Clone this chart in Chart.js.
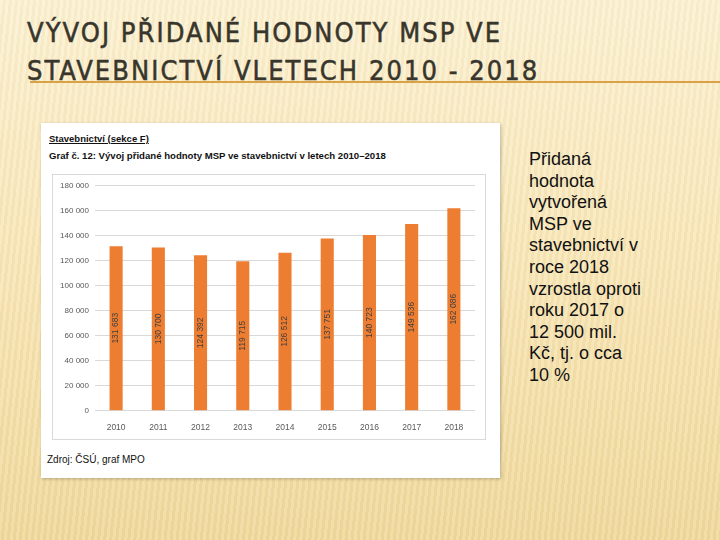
<!DOCTYPE html>
<html>
<head>
<meta charset="utf-8">
<script src="https://cdn.jsdelivr.net/npm/chart.js@4"></script>
<style>
  html, body { margin: 0; padding: 0; }
  body {
    width: 720px; height: 540px; overflow: hidden; position: relative;
    background:
      repeating-linear-gradient(96deg, rgba(255,255,255,0.12) 0 3px, rgba(120,80,0,0.035) 3px 6px),
      linear-gradient(180deg, #fcf1d2 0%, #f8e6b6 50%, #f0d99c 100%);
    font-family: "Liberation Sans", Arial, sans-serif;
  }
  .title {
    position: absolute; left: 27px; top: 14px;
    font-family: "DejaVu Sans", sans-serif;
    font-stretch: condensed;
    font-size: 27px; line-height: 38px; color: #38362c;
    letter-spacing: 2.05px;
    -webkit-text-stroke: 0.5px #38362c;
  }
  .rule { position: absolute; left: 30px; top: 81px; width: 690px; height: 2px; background: #dba147; }
  .card {
    position: absolute; left: 41px; top: 123px; width: 459px; height: 355px;
    background: #fff; box-shadow: 1px 1px 3px rgba(0,0,0,0.25);
  }
  .sec { position: absolute; left: 8px; top: 10px; font-size: 9.5px; font-weight: bold; text-decoration: underline; color: #111; }
  .graf { position: absolute; left: 8px; top: 27px; font-size: 9.6px; font-weight: bold; color: #111; }
  .frame {
    position: absolute; left: 11px; top: 51px; width: 432px; height: 264px;
    border: 1px solid #d9d9d9;
  }
  .src { position: absolute; left: 6px; top: 331px; font-size: 10px; color: #111; }
  .note {
    position: absolute; left: 529px; top: 149px; font-size: 18px; line-height: 21.6px; color: #111;
  }
</style>
</head>
<body>
<div class="title">VÝVOJ PŘIDANÉ HODNOTY MSP VE<br>STAVEBNICTVÍ VLETECH 2010 - 2018</div>
<div class="rule"></div>
<div class="card">
  <div class="sec">Stavebnictví (sekce F)</div>
  <div class="graf">Graf č. 12: Vývoj přidané hodnoty MSP ve stavebnictví v letech 2010–2018</div>
  <div class="frame"><canvas id="chart" width="432" height="264"></canvas></div>
  <div class="src">Zdroj: ČSÚ, graf MPO</div>
</div>
<div class="note">Přidaná<br>hodnota<br>vytvořená<br>MSP ve<br>stavebnictví v<br>roce 2018<br>vzrostla oproti<br>roku 2017 o<br>12 500 mil.<br>Kč, tj. o cca<br>10 %</div>

<script>
const years = ['2010', '2011', '2012', '2013', '2014', '2015', '2016', '2017', '2018'];
const addedValue = [131683, 130700, 124392, 119715, 126512, 137751, 140723, 149536, 162086];
const yMax = 180000;
const yStep = 20000;

function fmt(v) {
  return String(v).replace(/\B(?=(\d{3})+(?!\d))/g, ' ');
}

// popisky hodnot otočené svisle uprostřed sloupců
const barLabels = {
  id: 'barLabels',
  afterDatasetsDraw(chart) {
    const ctx = chart.ctx;
    const meta = chart.getDatasetMeta(0);
    ctx.save();
    ctx.font = '8.5px "Liberation Sans", Arial, sans-serif';
    ctx.fillStyle = '#404040';
    ctx.textAlign = 'center';
    ctx.textBaseline = 'middle';
    meta.data.forEach((bar, i) => {
      let cy = (bar.y + bar.base) / 2;
      ctx.save();
      ctx.translate(bar.x, cy);
      ctx.rotate(-Math.PI / 2);
      ctx.fillText(fmt(addedValue[i]), 0, 0);
      ctx.restore();
    });
    ctx.restore();
  }
};

const ctx = document.getElementById('chart').getContext('2d');
const chart = new Chart(ctx, {
  type: 'bar',
  data: {
    labels: years,
    datasets: [{
      data: addedValue,
      backgroundColor: '#ed7d31',
      borderWidth: 0,
      barPercentage: 0.31,
      categoryPercentage: 1,
    }],
  },
  options: {
    responsive: false,
    animation: false,
    layout: { padding: { left: 0, top: 6, right: 10, bottom: 2 } },
    plugins: { legend: { display: false }, tooltip: { enabled: false } },
    scales: {
      x: {
        grid: { display: false },
        border: { display: false },
        ticks: { color: '#595959', font: { size: 8.5, family: '"Liberation Sans", Arial' }, padding: 4 },
      },
      y: {
        min: 0,
        max: yMax,
        afterFit(scale) { scale.width = 42; },
        grid: { color: '#d9d9d9', drawTicks: false },
        border: { display: false },
        ticks: {
          stepSize: yStep,
          color: '#595959',
          padding: 6,
          font: { size: 8, family: '"Liberation Sans", Arial' },
          callback: (v) => fmt(v),
        },
      },
    },
  },
  plugins: [barLabels],
});
</script>
</body>
</html>
